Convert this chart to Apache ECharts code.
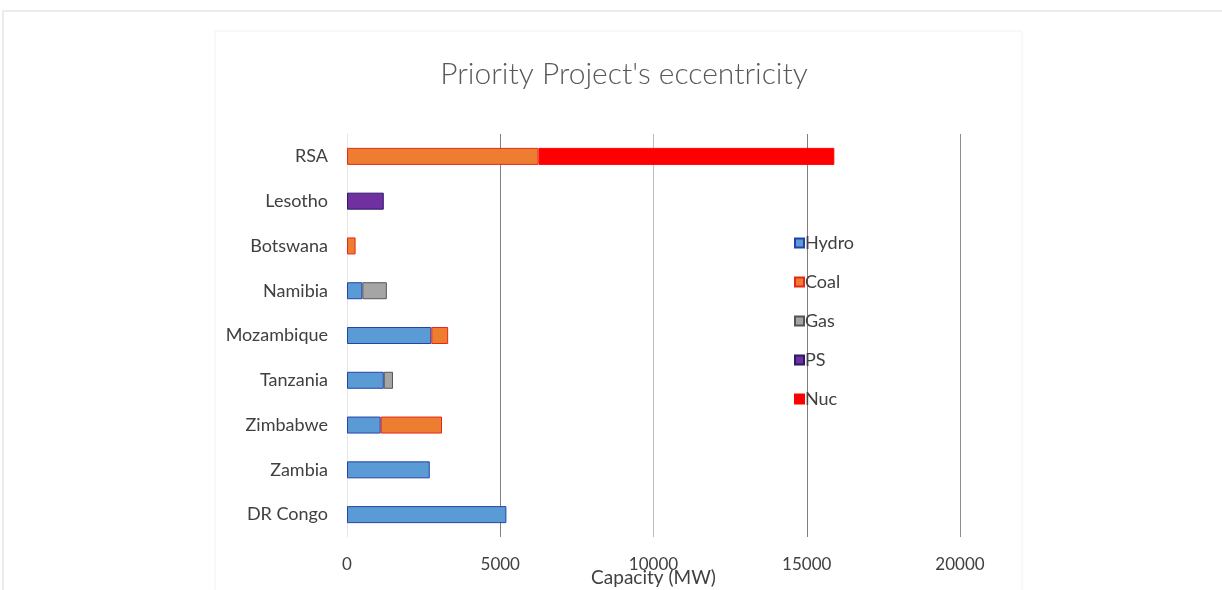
<!DOCTYPE html>
<html>
<head>
<meta charset="utf-8">
<script src="https://cdn.jsdelivr.net/npm/echarts@6/dist/echarts.min.js"></script>
<style>
  html, body { margin: 0; padding: 0; background: #fff; }
  #chart { width: 1222px; height: 590px; }
</style>
</head>
<body>
<div id="chart"></div>
<script>
// categories, bottom to top as in the picture
const countries = ["DR Congo", "Zambia", "Zimbabwe", "Tanzania", "Mozambique", "Namibia", "Botswana", "Lesotho", "RSA"];
// capacity per technology (MW), same order as countries
const hydro = [5200, 2700, 1100, 1200, 2750, 500, 0, 0, 0];
const coal  = [0, 0, 2000, 0, 550, 0, 280, 0, 6250];
const gas   = [0, 0, 0, 300, 0, 800, 0, 0, 0];
const ps    = [0, 0, 0, 0, 0, 0, 0, 1200, 0];
const nuc   = [0, 0, 0, 0, 0, 0, 0, 0, 9650];
const xTicks = [0, 5000, 10000, 15000, 20000];

const chart = echarts.init(document.getElementById("chart"));

// 0 values are left out so no empty slivers are drawn
function clean(arr) {
  return arr.map(v => (v === 0 ? null : v));
}

function barSeries(name, data, fill, border) {
  return {
    name: name,
    type: "bar",
    stack: "cap",
    barWidth: 17,
    data: clean(data),
    itemStyle: { color: fill, borderColor: border, borderWidth: 1 },
  };
}

const font = "Lato, 'Open Sans', sans-serif";

const option = {
  animation: false,
  backgroundColor: "#fff",
  textStyle: { fontFamily: font },
  title: {
    text: "Priority Project's eccentricity",
    left: 619,
    top: 54,
    textAlign: "center",
    textStyle: { fontSize: 30, fontWeight: 300, color: "#595959", fontFamily: font },
  },
  graphic: [
    { type: "rect", shape: { x: 3, y: 11, width: 1230, height: 600 }, style: { fill: "none", stroke: "#ececec", lineWidth: 2 }, silent: true },
    { type: "rect", shape: { x: 215, y: 31, width: 807, height: 570 }, style: { fill: "none", stroke: "#f2f2f2", lineWidth: 1 }, silent: true },
  ],
  grid: {
    left: 347,
    right: 1222 - 960,
    top: 134,
    bottom: 53,
    containLabel: false,
    outerBoundsMode: "none",
  },
  legend: {
    orient: "vertical",
    left: 789,
    top: 229,
    itemWidth: 9,
    itemHeight: 9,
    itemGap: 21,
    icon: "rect",
    textStyle: { fontSize: 18, color: "#404040", padding: [0, 0, 0, -4] },
    data: ["Hydro", "Coal", "Gas", "PS", "Nuc"],
  },
  xAxis: {
    type: "value",
    min: xTicks[0],
    max: xTicks[xTicks.length - 1],
    interval: 5000,
    name: "Capacity (MW)",
    nameLocation: "middle",
    nameGap: 31,
    nameMoveOverlap: false,
    nameTextStyle: { fontSize: 19, color: "#404040" },
    axisLine: { show: false },
    axisTick: { show: false },
    axisLabel: { fontSize: 17, color: "#404040", margin: 19, formatter: v => String(v) },
    splitLine: {
      show: true,
      lineStyle: { color: ["#e6e6e6", "#7f7f7f", "#bdbdbd", "#7f7f7f", "#8c8c8c"], width: 1 },
    },
  },
  yAxis: {
    type: "category",
    data: countries,
    axisLine: { show: true, lineStyle: { color: "#e6e6e6" } },
    axisTick: { show: false },
    axisLabel: { fontSize: 18, color: "#404040", margin: 19 },
  },
  series: [
    barSeries("Hydro", hydro, "#5b9bd5", "#2343a8"),
    barSeries("Coal", coal, "#ed7d31", "#e8271a"),
    barSeries("Gas", gas, "#a5a5a5", "#555555"),
    barSeries("PS", ps, "#7030a0", "#2a1a6a"),
    barSeries("Nuc", nuc, "#ff0000", "#ff0000"),
  ],
};

chart.setOption(option);
</script>
</body>
</html>
